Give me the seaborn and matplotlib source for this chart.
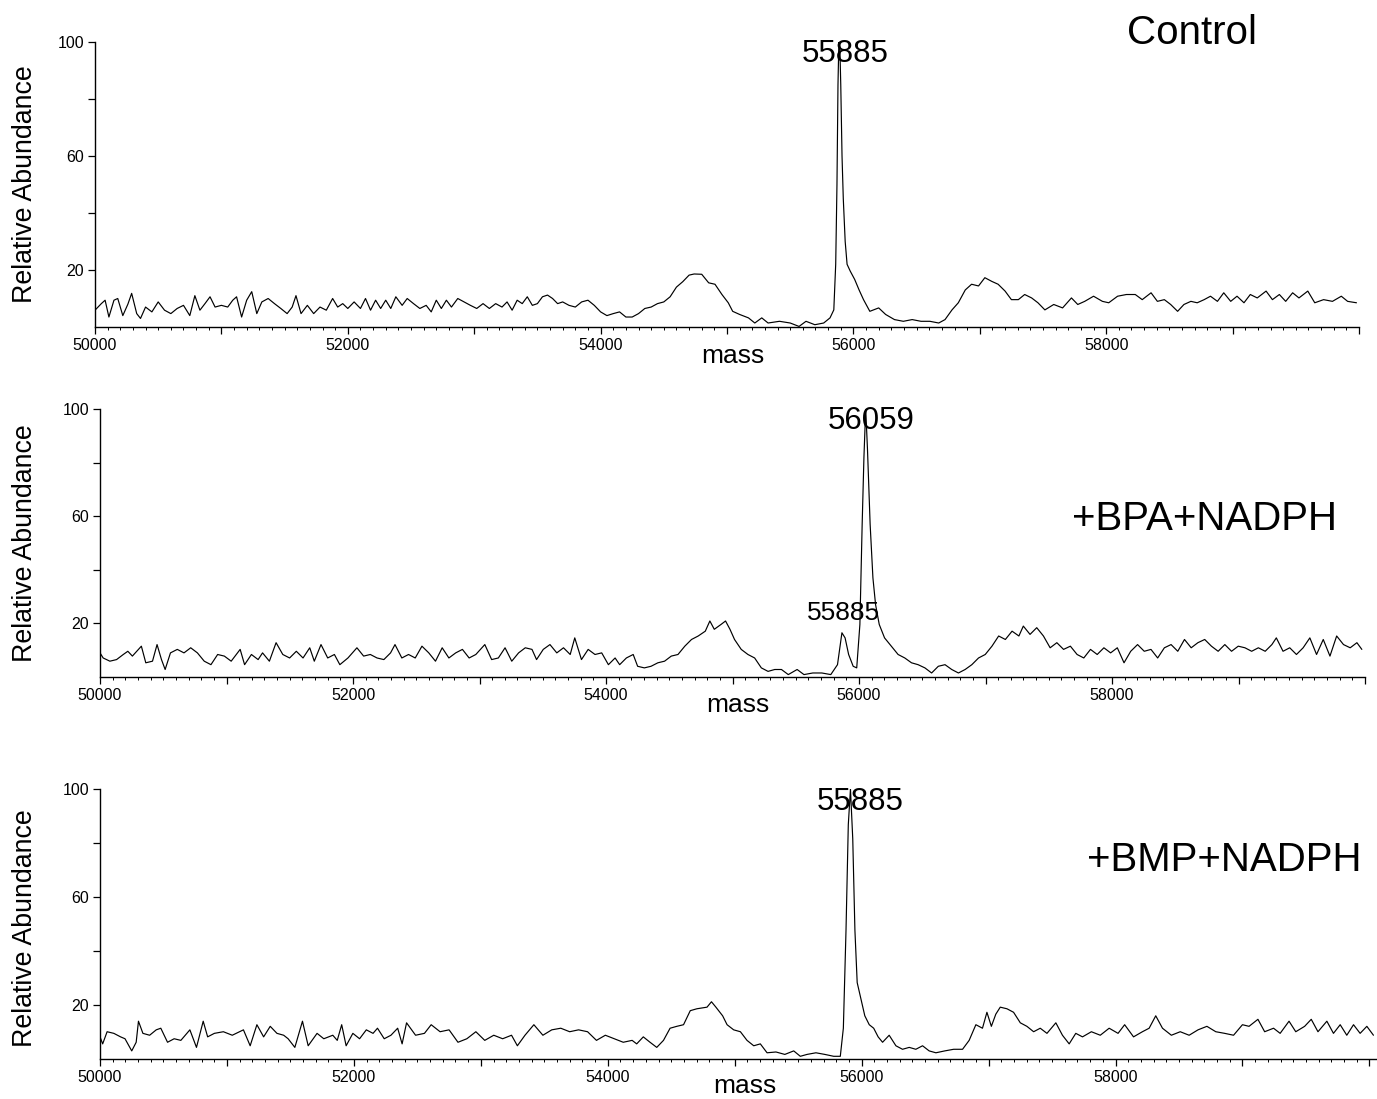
import pandas as pd
import seaborn as sns
import matplotlib.pyplot as plt
from matplotlib.ticker import MultipleLocator

# deconvoluted mass spectra
ctrl_mass = [50000, 50050, 50080, 50110, 50150, 50180, 50220, 50260, 50290, 50330,
             50360, 50400, 50450, 50500, 50550, 50600, 50650, 50700, 50750, 50790,
             50830, 50870, 50910, 50950, 51000, 51050, 51090, 51120, 51160, 51200,
             51240, 51280, 51320, 51370, 51420, 51470, 51520, 51560, 51590, 51630,
             51680, 51730, 51780, 51830, 51880, 51920, 51960, 52000, 52050, 52100,
             52140, 52180, 52220, 52260, 52300, 52340, 52380, 52430, 52470, 52520,
             52570, 52620, 52660, 52700, 52740, 52780, 52820, 52870, 52920, 52970,
             53020, 53070, 53120, 53170, 53220, 53260, 53300, 53340, 53380, 53420,
             53460, 53500, 53540, 53580, 53620, 53660, 53700, 53750, 53800, 53850,
             53900, 53950, 54000, 54050, 54100, 54150, 54200, 54250, 54300, 54350,
             54400, 54450, 54500, 54550, 54600, 54650, 54700, 54740, 54800, 54855,
             54905, 54960, 55010, 55045, 55100, 55170, 55220, 55275, 55325, 55415,
             55500, 55570, 55625, 55695, 55765, 55815, 55845, 55860, 55870, 55878,
             55885, 55893, 55900, 55910, 55920, 55935, 55950, 55975, 56010, 56045,
             56080, 56130, 56200, 56255, 56325, 56395, 56465, 56535, 56605, 56675,
             56725, 56780, 56830, 56885, 56935, 56990, 57040, 57095, 57145, 57200,
             57250, 57305, 57355, 57410, 57460, 57515, 57585, 57655, 57725, 57775,
             57830, 57900, 57970, 58020, 58090, 58160, 58230, 58285, 58355, 58405,
             58460, 58510, 58565, 58615, 58670, 58720, 58775, 58825, 58880, 58930,
             58985, 59035, 59090, 59140, 59195, 59265, 59315, 59370, 59420, 59475,
             59525, 59595, 59650, 59720, 59790, 59860, 59910, 59980]
ctrl_abund = [5.9, 8.2, 9.4, 3.5, 9.4, 10, 4, 8, 11.8, 4.7,
              3, 7, 5.3, 8.8, 5.9, 4.7, 6.5, 7.6, 4, 11,
              5.9, 8.2, 10.6, 7, 7.6, 7, 9.4, 10.6, 3.5, 9.4,
              12.4, 4.7, 8.8, 10, 8.2, 6.5, 4.7, 7, 11, 4.7,
              7.6, 4.7, 7, 5.9, 10, 7, 8.2, 6.5, 8.8, 6.5,
              10, 5.9, 9.4, 6.5, 9.4, 6.5, 10.6, 7.6, 10, 8.2,
              6.5, 7.6, 5.3, 9.4, 6.5, 9.4, 7, 10, 8.8, 7.6,
              6.5, 8.2, 6.5, 8.2, 7, 8.8, 5.9, 9.4, 8.2, 10.6,
              7.6, 8.2, 10.6, 11.2, 10, 8.2, 8.8, 7.6, 7, 8.8,
              9.4, 7.6, 5.3, 4, 4.7, 5.3, 3.5, 3.5, 4.7, 6.5,
              7, 8.2, 8.8, 10.6, 14, 15.9, 18.2, 18.6, 18.5, 15.5,
              15, 11.4, 8.5, 5.5, 4.4, 3.2, 1.4, 3.2, 1.4, 2,
              1.4, 0.2, 2, 0.8, 1.4, 3.2, 6, 22, 50, 85,
              100, 98, 85, 60, 45, 30, 22, 19.6, 16.7, 13,
              9.6, 5.5, 6.7, 4.4, 2.6, 2, 2.6, 2, 2, 1.4,
              2.6, 6, 8.5, 13, 15, 14.4, 17.3, 16, 15, 12.6,
              9.6, 9.6, 11.4, 10.2, 8.5, 6, 7.9, 6.7, 10.2, 7.9,
              9, 10.8, 9, 8.5, 10.8, 11.4, 11.4, 9.6, 12, 9,
              9.6, 7.9, 5.5, 7.9, 9, 8.5, 9.6, 10.8, 9, 12,
              9, 10.8, 8.5, 11.4, 10.2, 12.6, 9.6, 11.4, 9, 12,
              10.2, 12.6, 8.5, 9.6, 9, 10.8, 9, 8.5]

bpa_mass = [50000, 50025, 50078, 50131, 50184, 50220, 50256, 50291, 50327, 50362,
            50415, 50451, 50486, 50515, 50557, 50611, 50664, 50717, 50770, 50824,
            50877, 50930, 50983, 51037, 51108, 51143, 51197, 51250, 51285, 51339,
            51392, 51445, 51499, 51552, 51605, 51658, 51694, 51747, 51800, 51853,
            51896, 51960, 52031, 52084, 52137, 52190, 52244, 52297, 52332, 52386,
            52439, 52492, 52545, 52599, 52652, 52705, 52758, 52812, 52865, 52918,
            52971, 53042, 53096, 53149, 53202, 53255, 53309, 53362, 53415, 53451,
            53504, 53557, 53611, 53664, 53717, 53753, 53806, 53859, 53913, 53966,
            54019, 54072, 54108, 54161, 54215, 54250, 54303, 54356, 54410, 54463,
            54516, 54569, 54623, 54676, 54729, 54785, 54821, 54856, 54909, 54945,
            54980, 55016, 55069, 55122, 55175, 55228, 55281, 55334, 55387, 55441,
            55511, 55565, 55635, 55706, 55777, 55830, 55865, 55890, 55918, 55954,
            55982, 56007, 56025, 56039, 56053, 56067, 56088, 56110, 56131, 56160,
            56202, 56256, 56309, 56362, 56415, 56467, 56521, 56574, 56627, 56680,
            56733, 56786, 56839, 56892, 56945, 56998, 57051, 57104, 57157, 57210,
            57264, 57299, 57352, 57405, 57458, 57511, 57564, 57617, 57671, 57724,
            57777, 57830, 57883, 57936, 57989, 58042, 58095, 58148, 58202, 58255,
            58308, 58361, 58414, 58467, 58520, 58573, 58626, 58679, 58733, 58786,
            58839, 58892, 58945, 58998, 59051, 59104, 59157, 59211, 59264, 59299,
            59352, 59405, 59458, 59511, 59564, 59617, 59670, 59723, 59776, 59830,
            59883, 59936, 59975]
bpa_abund = [9, 7.1, 5.9, 6.5, 8.4, 9.6, 7.8, 9.6, 11.5, 5.3,
             5.9, 12.1, 6.5, 2.8, 9, 10.3, 9, 10.9, 9, 5.9,
             4.6, 8.4, 7.8, 5.9, 10.3, 4.6, 8.4, 6.5, 9, 5.9,
             12.8, 8.4, 7.1, 9.6, 7.1, 10.9, 5.9, 12.1, 7.1, 8.4,
             4.6, 7.1, 10.9, 7.8, 8.4, 7.1, 6.5, 9, 12.1, 7.1,
             8.4, 7.1, 11.5, 9, 5.9, 10.9, 7.1, 9, 10.3, 7.1,
             8.4, 12.1, 6.5, 7.1, 10.9, 5.9, 9, 10.9, 10.3, 6.5,
             10.3, 12.1, 9, 10.9, 8.4, 14.6, 6.5, 10.3, 8.4, 9,
             4.6, 7.1, 4.6, 7.1, 8.4, 4, 3.4, 4, 5.3, 5.9,
             7.8, 8.4, 11.5, 14, 15.3, 17.1, 20.9, 17.8, 19.6, 20.9,
             17.8, 14, 10.3, 8.4, 7.1, 3.4, 2.1, 2.8, 2.8, 0.9,
             2.8, 0.9, 1.5, 1.5, 0.9, 4.6, 16.5, 14.6, 8.4, 4,
             3.4, 19.6, 57, 82, 100, 85, 57, 37, 27, 19.6,
             14.6, 11.5, 8.4, 7.1, 5.3, 4.6, 3.4, 1.5, 4, 4.6,
             2.8, 1.5, 2.8, 4.6, 7.1, 8.4, 11.5, 15.3, 14, 17.1,
             15.3, 19, 15.9, 18.4, 15.3, 10.9, 12.8, 10.3, 11.5, 8.4,
             7.1, 10.3, 8.4, 10.9, 9, 10.9, 5.3, 9.6, 12.1, 9.6,
             10.3, 7.1, 10.9, 12.1, 9.6, 14, 10.9, 12.8, 14, 11.5,
             9.6, 12.1, 9.6, 11.5, 10.9, 9.6, 10.9, 9.6, 12.1, 14.6,
             9.6, 10.9, 8.4, 10.9, 14.6, 8.4, 14, 7.8, 15.3, 12.1,
             10.9, 12.8, 10.3]

bmp_mass = [50000, 50021, 50056, 50109, 50162, 50197, 50250, 50285, 50303, 50338,
            50391, 50443, 50479, 50532, 50584, 50637, 50708, 50760, 50813, 50848,
            50901, 50972, 51042, 51130, 51183, 51236, 51289, 51341, 51394, 51447,
            51482, 51535, 51595, 51640, 51710, 51763, 51834, 51869, 51904, 51939,
            51992, 52045, 52098, 52151, 52186, 52239, 52292, 52345, 52380, 52415,
            52486, 52556, 52609, 52679, 52750, 52820, 52890, 52961, 53031, 53102,
            53172, 53242, 53288, 53348, 53418, 53489, 53559, 53630, 53700, 53770,
            53841, 53911, 53981, 54052, 54122, 54192, 54228, 54280, 54333, 54386,
            54439, 54491, 54544, 54597, 54650, 54702, 54782, 54817, 54852, 54905,
            54940, 54992, 55045, 55097, 55150, 55202, 55255, 55325, 55395, 55465,
            55517, 55570, 55640, 55710, 55780, 55832, 55856, 55877, 55895, 55912,
            55930, 55947, 55965, 55990, 56025, 56060, 56095, 56130, 56165, 56217,
            56270, 56322, 56375, 56427, 56480, 56532, 56585, 56655, 56725, 56795,
            56847, 56900, 56952, 56987, 57022, 57057, 57092, 57145, 57197, 57250,
            57302, 57355, 57407, 57460, 57530, 57582, 57635, 57687, 57740, 57810,
            57880, 57950, 58020, 58072, 58142, 58212, 58265, 58317, 58370, 58440,
            58510, 58580, 58650, 58720, 58790, 58860, 58930, 59000, 59052, 59122,
            59175, 59245, 59297, 59367, 59420, 59490, 59542, 59595, 59665, 59717,
            59770, 59822, 59875, 59927, 59980, 60032]
bmp_abund = [8.2, 5.6, 10.1, 9.5, 8.2, 7.5, 3, 6.2, 14, 9.5,
             8.8, 10.8, 11.4, 6.2, 7.5, 6.9, 10.8, 4.3, 14, 8.2,
             9.5, 10.1, 8.8, 10.8, 4.9, 12.7, 8.2, 12.1, 9.5, 8.8,
             7.5, 4.3, 14, 4.9, 9.5, 7.5, 8.8, 6.9, 12.7, 4.9,
             9.5, 7.5, 10.8, 9.5, 11.4, 7.5, 8.8, 11.4, 5.6, 13.4,
             8.8, 9.5, 12.7, 10.1, 10.8, 6.2, 7.5, 10.1, 6.9, 8.8,
             7.5, 8.8, 4.9, 8.8, 12.7, 8.8, 10.8, 11.4, 10.1, 10.8,
             10.1, 6.9, 8.8, 7.5, 6.2, 6.9, 5.6, 8.2, 6.2, 4.3,
             6.9, 11.4, 12.1, 12.7, 17.9, 18.6, 19.2, 21.2, 19.2, 16,
             12.7, 10.8, 10.1, 6.9, 4.9, 5.6, 2.3, 2.6, 1.7, 3,
             1, 1.7, 2.3, 1.7, 1, 1, 11.4, 47.8, 86.8, 100,
             81.6, 47.8, 28.3, 23.1, 16, 12.7, 11.4, 8.2, 6.2, 8.8,
             4.9, 3.6, 4.3, 3.6, 4.9, 3, 2.3, 3, 3.6, 3.6,
             6.9, 12.7, 11.4, 17.3, 12.1, 16.6, 19.2, 18.6, 17.3, 13.4,
             12.1, 10.1, 11.4, 9.5, 13.4, 8.8, 5.6, 9.5, 8.2, 10.1,
             8.8, 11.4, 9.5, 12.7, 8.2, 10.1, 11.4, 16, 11.4, 8.8,
             10.1, 8.8, 10.8, 12.1, 10.1, 9.5, 8.8, 12.7, 12.1, 14.7,
             10.1, 11.4, 9.5, 14, 10.1, 12.1, 14.7, 10.1, 14, 9.5,
             12.7, 8.8, 12.7, 9.5, 12.1, 8.8]

conditions = ['Control', '+BPA+NADPH', '+BMP+NADPH']

sns.set_style('ticks')
plt.rcParams['font.family'] = ['Liberation Sans', 'DejaVu Sans']
plt.rcParams['text.color'] = 'black'
plt.rcParams['xtick.color'] = 'black'
plt.rcParams['ytick.color'] = 'black'
plt.rcParams['axes.labelcolor'] = 'black'

W, H = 1377, 1099
fig = plt.figure(figsize=(W / 100, H / 100), dpi=100)


def fx(x):
    return x / W


def fy(y):
    return 1 - y / H


# axes boxes in pixels (left, top, right, bottom) and x limits
boxes = [(95, 42, 1359, 327), (100, 409, 1365, 677), (100, 789, 1377, 1059)]
xlims = [(50000, 59990), (50000, 59980), (50000, 60060)]
spectra = [(ctrl_mass, ctrl_abund), (bpa_mass, bpa_abund), (bmp_mass, bmp_abund)]

axes = []
for (l, t, r, b), xl, (m, a) in zip(boxes, xlims, spectra):
    ax = fig.add_axes([fx(l), fy(b), (r - l) / W, (b - t) / H])
    df = pd.DataFrame({'mass': m, 'abund': a})
    sns.lineplot(data=df, x='mass', y='abund', ax=ax, color='black',
                 linewidth=0.85, estimator=None)
    ax.set_xlim(*xl)
    ax.set_ylim(0, 100)
    ax.set_xlabel('')
    ax.set_ylabel('')
    sns.despine(ax=ax)
    for s in ['left', 'bottom']:
        ax.spines[s].set_linewidth(1.0)
        ax.spines[s].set_color('black')
    # labelled every 2000, longer tick every 1000, small every 100
    ax.set_xticks(range(50000, 60001, 1000))
    ax.set_xticklabels([str(v) if v % 2000 == 0 and v < 60000 else '' for v in range(50000, 60001, 1000)])
    ax.xaxis.set_minor_locator(MultipleLocator(100))
    ax.set_yticks([20, 40, 60, 80, 100])
    ax.set_yticklabels(['20', '', '60', '', '100'])
    ax.tick_params(axis='both', which='major', length=5, width=0.9, labelsize=11.5, pad=3, color='black')
    ax.tick_params(axis='x', which='minor', length=2.5, width=0.7, color='black')
    ax.tick_params(axis='y', which='minor', left=False)
    axes.append(ax)

# axis titles
for yc in [184, 543, 928]:
    fig.text(fx(25), fy(yc), 'Relative Abundance', rotation=90, ha='center', va='center', fontsize=19.3)
for xc, yc in [(733, 356), (738, 705), (745, 1086)]:
    fig.text(fx(xc), fy(yc), 'mass', ha='center', va='center', fontsize=19)

# condition names
for name, (xc, yc) in zip(conditions, [(1192, 33), (1205, 519), (1224, 860)]):
    fig.text(fx(xc), fy(yc), name, ha='center', va='center', fontsize=29)

# peak annotations
axes[0].text(55937, 95.8, '55885', ha='center', va='center', fontsize=22.5)
axes[1].text(56099, 95.5, '56059', ha='center', va='center', fontsize=22.5)
axes[1].text(55878, 23.9, '55885', ha='center', va='center', fontsize=19)
axes[2].text(55992, 95.2, '55885', ha='center', va='center', fontsize=22.5)

plt.savefig('out.png', dpi=100)
